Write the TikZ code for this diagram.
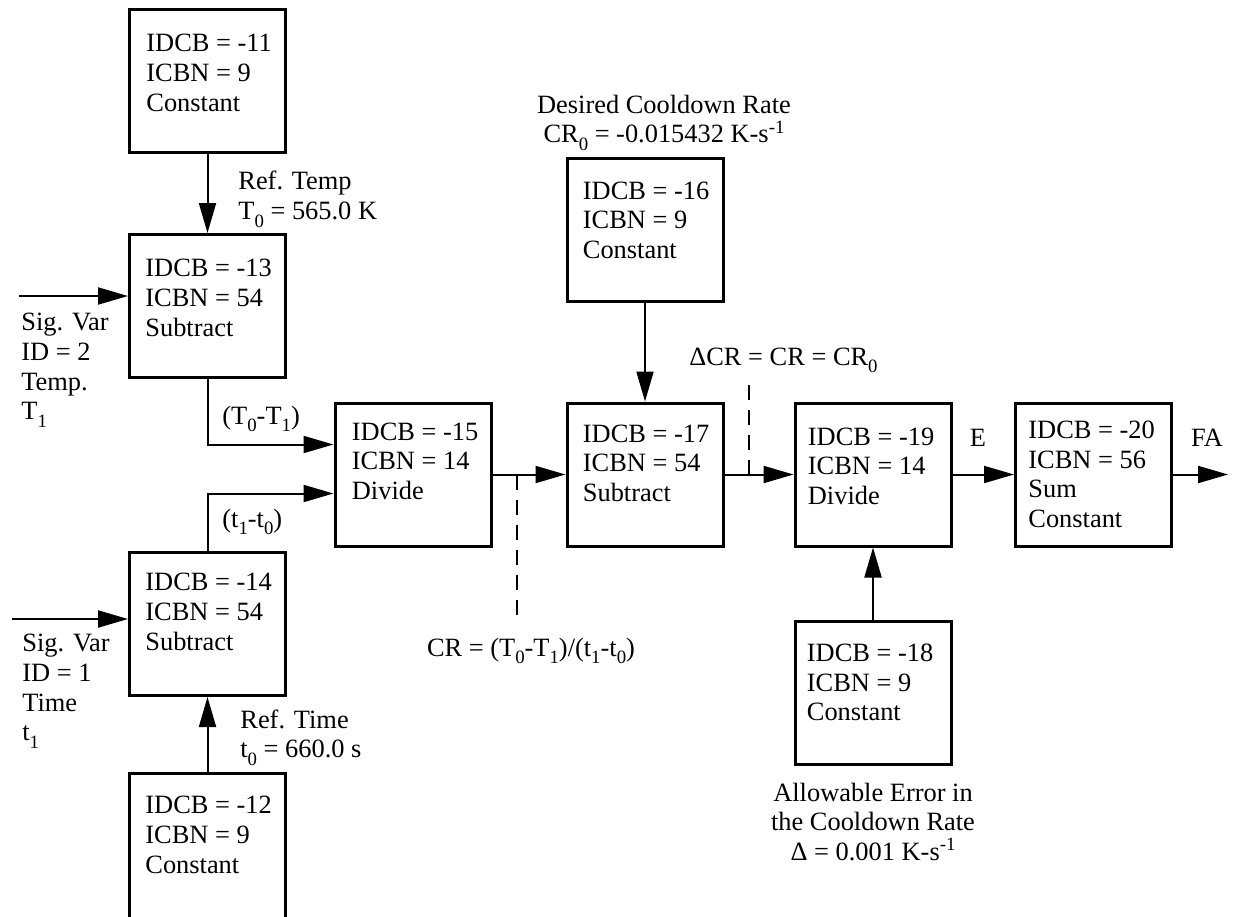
\documentclass[tikz,border=0pt]{standalone}
\usepackage{fontspec}
\setmainfont{Liberation Serif}
\usetikzlibrary{arrows.meta,calc}
\newcommand\mysub[1]{\raisebox{-0.3em}{\fontsize{9.4}{10}\selectfont #1}}
\newcommand\mysup[1]{\raisebox{0.36em}{\fontsize{9.4}{10}\selectfont #1}}
\begin{document}
\begin{tikzpicture}[x=0.5pt,y=-0.5pt,
  blk/.style={draw,line width=1.5pt,minimum width=78pt,minimum height=71.5pt,inner sep=0pt},
  txt/.style={font=\fontsize{13.2}{14.8}\selectfont,align=left,inner sep=0pt,anchor=north west},
  lab/.style={font=\fontsize{13.2}{14.8}\selectfont,inner sep=0pt},
  arr/.style={line width=1pt,-{Triangle[length=15pt,width=8.5pt]}},
  dsh/.style={line width=1pt,dash pattern=on 7.5pt off 5pt}]
\useasboundingbox (0,0) rectangle (1235,916);

% boxes
\node[blk] (b11) at (207.5,81) {};
\node[blk] (b13) at (207.5,306) {};
\node[blk] (b14) at (207.5,624) {};
\node[blk,minimum height=75pt] (b12) at (207.5,848.5) {};
\node[blk] (b15) at (413,474.5) {};
\node[blk] (b16) at (645,229.5) {};
\node[blk] (b17) at (645,474.5) {};
\node[blk] (b19) at (873,474.5) {};
\node[blk] (b18) at (873,692.5) {};
\node[blk] (b20) at (1093.5,474.5) {};

% box texts
\node[txt] (t11) at ($(b11.north west)+(18,26)$) {IDCB = -11\\ICBN = 9\\Constant};
\node[txt] (t13) at ($(b13.north west)+(17,26)$) {IDCB = -13\\ICBN = 54\\Subtract};
\node[txt] (t14) at ($(b14.north west)+(17,22)$) {IDCB = -14\\ICBN = 54\\Subtract};
\node[txt] (t12) at ($(b12.north west)+(17,24)$) {IDCB = -12\\ICBN = 9\\Constant};
\node[txt] (t15) at ($(b15.north west)+(18,21)$) {IDCB = -15\\ICBN = 14\\Divide};
\node[txt] (t16) at ($(b16.north west)+(17,25)$) {IDCB = -16\\ICBN = 9\\Constant};
\node[txt] (t17) at ($(b17.north west)+(17,23)$) {IDCB = -17\\ICBN = 54\\Subtract};
\node[txt] (t19) at ($(b19.north west)+(14,26)$) {IDCB = -19\\ICBN = 14\\Divide};
\node[txt] (t18) at ($(b18.north west)+(13,24)$) {IDCB = -18\\ICBN = 9\\Constant};
\node[txt] (t20) at ($(b20.north west)+(14,19)$) {IDCB = -20\\ICBN = 56\\Sum\\Constant};

% connectors
\coordinate (in13) at (19,296);
\coordinate (in14) at (12,619);
\coordinate (out) at (1228,474.5);
\draw[arr] (b11.south) -- (b13.north);
\draw[arr] (in13) -- (in13 -| b13.west);
\draw[arr] (in14) -- (in14 -| b14.west);
\draw[arr] (b12.north) -- (b14.south);
\draw[arr] (b13.south) |- ($(b15.west)+(0,-30)$);
\draw[arr] (b14.north) |- ($(b15.west)+(0,19)$);
\draw[arr] (b15) -- (b17);
\draw[arr] (b16.south) -- (b17.north);
\draw[arr] (b17) -- (b19);
\draw[arr] (b18.north) -- (b19.south);
\draw[arr] (b19) -- (b20);
\draw[arr] (b20) -- (out);

% dashed leaders
\coordinate (d1) at (517,474.5);
\coordinate (d2) at (749,474.5);
\draw[dsh] (d1) -- ++(0,146);
\draw[dsh] (d2) -- ++(0,-96);

% labels
\node[txt] (lreft) at (238,171) {Ref. Temp\\T\mysub{0} = 565.0 K};
\node[txt] (lreftm) at (240,709) {Ref. Time\\t\mysub{0} = 660.0 s};
\node[txt] (lsig2) at (21,313) {Sig. Var\\ID = 2\\Temp.\\T\mysub{1}};
\node[txt] (lsig1) at (22,634) {Sig. Var\\ID = 1\\Time\\t\mysub{1}};
\node[lab,anchor=base west] (ldT) at (222,424) {(T\mysub{0}-T\mysub{1})};
\node[lab,anchor=base west] (ldt) at (222,527) {(t\mysub{1}-t\mysub{0})};
\node[lab,anchor=base] (lE) at (978,446) {E};
\node[lab,anchor=base] (lFA) at (1207,446) {FA};
\node[lab,anchor=base west] (ldcr) at (689,365) {ΔCR = CR = CR\mysub{0}};
\node[lab,anchor=base] (lcr) at (531,656) {CR = (T\mysub{0}-T\mysub{1})/(t\mysub{1}-t\mysub{0})};
\node[lab,align=center,anchor=north] (ldes) at (664,94.5) {Desired Cooldown Rate\\CR\mysub{0} = -0.015432 K-s\mysup{-1}};
\node[lab,align=center,anchor=north] (lallow) at (873,782.5) {Allowable Error in\\the Cooldown Rate\\Δ = 0.001 K-s\mysup{-1}};
\end{tikzpicture}
\end{document}
